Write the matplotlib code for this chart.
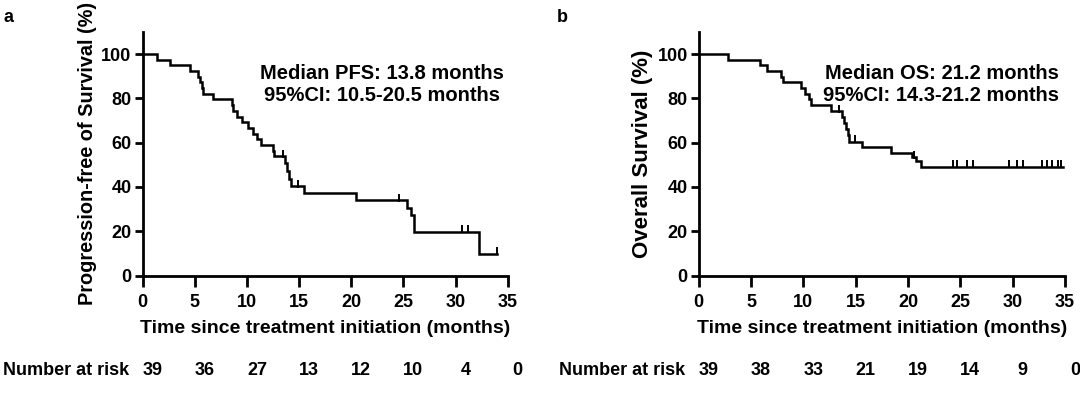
import numpy as np
import matplotlib
matplotlib.use("Agg")
import matplotlib.pyplot as plt
import matplotlib.transforms as mtransforms

plt.rcParams['font.family'] = ['Liberation Sans', 'DejaVu Sans']
plt.rcParams['font.weight'] = 'bold'

# panel a: progression-free survival (step times in months, survival %)
pfs_t = [0, 1.4, 2.6, 4.5, 5.3, 5.5, 5.7, 5.8, 6.7, 8.6, 8.7, 9.0, 9.5, 10.1,
         10.6, 11.0, 11.3, 12.5, 12.6, 13.65, 13.8, 14.0, 14.2, 15.5, 20.5,
         25.3, 25.7, 26.0, 32.2]
pfs_s = [100, 97.4, 94.9, 92.3, 89.7, 87.2, 84.6, 82.1, 79.5, 76.9, 74.4, 71.8,
         69.2, 66.7, 64.1, 61.5, 59.0, 56.4, 53.8, 50.6, 47.2, 43.8, 40.4, 37.2,
         34.1, 30.7, 27.3, 19.8, 9.9]
pfs_censor = [13.45, 14.9, 24.6, 30.6, 31.2, 34.0]
pfs_end = 34.0
pfs_risk = ['39', '36', '27', '13', '12', '10', '4', '0']

# panel b: overall survival
os_t = [0, 2.8, 5.9, 6.5, 7.9, 8.1, 9.8, 10.2, 10.5, 10.7, 12.6, 13.7, 13.9,
        14.1, 14.3, 14.4, 15.6, 18.4, 20.4, 20.8, 21.2]
os_s = [100, 97.4, 94.9, 92.3, 89.7, 87.2, 84.6, 82.1, 79.5, 76.9, 74.4, 71.7,
        68.9, 66.1, 63.3, 60.5, 57.9, 55.4, 53.5, 51.6, 49.2]
os_censor = [13.4, 14.9, 20.6, 24.3, 24.7, 25.6, 26.2, 29.7, 30.4, 31.0, 32.8,
             33.3, 33.8, 34.3, 34.6]
os_end = 34.8
os_risk = ['39', '38', '33', '21', '19', '14', '9', '0']

risk_times = [0, 5, 10, 15, 20, 25, 30, 35]


def surv_at(t, times, surv):
    i = np.searchsorted(times, t, side='right') - 1
    return surv[i]


fig = plt.figure(figsize=(10.8, 3.97), dpi=100)
ax_a = fig.add_axes([0.1321, 0.306, 0.338, 0.6136])
ax_b = fig.add_axes([0.647, 0.306, 0.339, 0.6136])

panels = [
    (ax_a, pfs_t, pfs_s, pfs_censor, pfs_end, pfs_risk,
     'Progression-free of Survival (%)', 14.3,
     'Median PFS: 13.8 months\n95%CI: 10.5-20.5 months', 22.9),
    (ax_b, os_t, os_s, os_censor, os_end, os_risk,
     'Overall Survival (%)', 16.0,
     'Median OS: 21.2 months\n95%CI: 14.3-21.2 months', 23.2),
]

for ax, t, s, cens, tend, risk, ylab, ysize, note, nx in panels:
    tt = list(t) + [tend]
    ss = list(s) + [s[-1]]
    ax.step(tt, ss, where='post', color='black', lw=1.8, solid_joinstyle='miter')
    cy = [surv_at(c, t, s) for c in cens]
    ax.plot(cens, np.array(cy) + 1.0, ls='none', marker='|', ms=5.5, mew=1.4,
            color='black')
    ax.set_xlim(0, 35)
    ax.set_ylim(0, 110)
    ax.set_xticks(range(0, 36, 5))
    ax.set_yticks(range(0, 101, 20))
    for side in ['top', 'right']:
        ax.spines[side].set_visible(False)
    for side in ['left', 'bottom']:
        ax.spines[side].set_linewidth(2.0)
    ax.tick_params(axis='x', direction='out', length=8, width=2.0, pad=5,
                   labelsize=13)
    ax.tick_params(axis='y', direction='out', length=6, width=2.0, pad=2,
                   labelsize=13)
    ax.set_xlabel('Time since treatment initiation (months)', fontsize=14,
                  fontweight='bold', labelpad=7)
    ax.set_ylabel(ylab, fontsize=ysize, fontweight='bold', labelpad=3)
    ax.text(nx, 95.5, note, ha='center', va='top', fontsize=14.5,
            fontweight='bold', linespacing=1.2)

    # number at risk row
    off = mtransforms.offset_copy(ax.get_xaxis_transform(), fig=fig, x=10,
                                  y=0, units='dots')
    for rt, rv in zip(risk_times, risk):
        ax.text(rt, -0.388, rv, transform=off, ha='center', va='center',
                fontsize=13, fontweight='bold', clip_on=False)
    lab = mtransforms.offset_copy(ax.get_xaxis_transform(), fig=fig, x=-14,
                                  y=0, units='dots')
    ax.text(0, -0.388, 'Number at risk', transform=lab, ha='right',
            va='center', fontsize=13, fontweight='bold')

fig.text(0.003, 0.978, 'a', fontsize=13, fontweight='bold', va='top')
fig.text(0.516, 0.978, 'b', fontsize=13, fontweight='bold', va='top')

fig.savefig('out.png', dpi=100)
